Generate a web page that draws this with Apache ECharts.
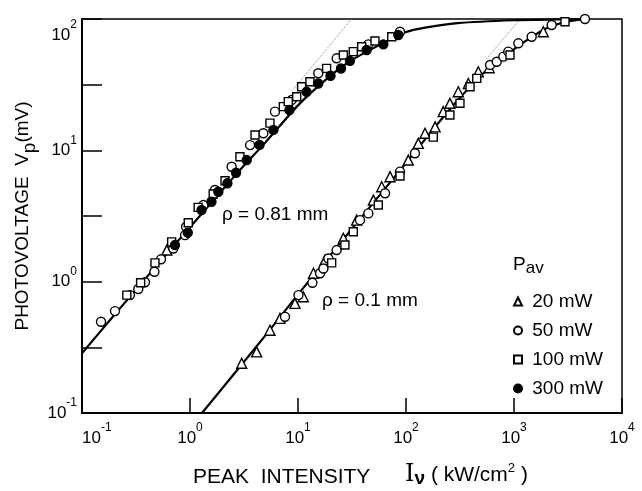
<!DOCTYPE html>
<html><head><meta charset="utf-8">
<script src="https://cdn.jsdelivr.net/npm/echarts@6/dist/echarts.min.js"></script>
<style>html,body{margin:0;padding:0;background:#fff}#c{width:642px;height:491px}</style>
</head><body><div id="c"></div>
<script>
// ---- data ----
const seriesNames = ['20 mW', '50 mW', '100 mW', '300 mW'];
// [intensity kW/cm^2, photovoltage mV]
const tri20 = [[0.61,1.74],[3.01,0.239],[4.14,0.292],[5.5,0.427],[6.81,0.525],[9.38,0.684],[11.2,0.768],[13.9,1.16],[17.8,1.46],[26.3,2.14],[34.9,2.94],[49.9,4.18],[59.6,5.28],[71.2,6.30],[105,8.43],[130,11.3],[150,13.5],[186,15.1],[221,19.7],[255,22.8],[305,27.9],[378,32.3],[467,39.7],[590,42.5],[1868,80]];
const circ50 = [[0.150,0.495],[0.202,0.597],[0.278,0.79],[0.332,0.88],[0.383,0.99],[0.468,1.19],[0.539,1.48],[0.70,1.79],[0.90,2.26],[0.92,2.62],[1.33,3.83],[1.70,4.99],[2.43,7.5],[3.6,10.96],[4.78,13.5],[6.12,19.7],[8.75,24.2],[15.4,38.6],[22.8,50.2],[44.8,64.1],[88,80],
  [7.58,0.54],[10.1,0.79],[13.6,0.98],[16.0,1.16],[17.2,1.26],[19.1,1.50],[22.8,1.74],[37.5,2.94],[44.8,3.31],[64,4.71],[88,6.88],[121,9.5],[600,44.7],[692,47.3],[797,51.7],[885,56.4],[1097,65.3],[1458,73.3],[2233,90],[4540,100]];
const sq100 = [[0.26,0.79],[0.349,0.98],[0.474,1.39],[0.676,2.01],[0.964,2.81],[1.19,3.68],[1.64,4.65],[2.11,5.86],[2.90,8.94],[4.0,13.1],[5.5,16.1],[7.31,21.5],[8.13,23.5],[9.73,25.6],[10.8,30.5],[12.9,33.3],[18.4,42.1],[26.3,53.2],[32.5,56.4],[38.9,61.5],[51.6,68.0],[73.8,73.3],
  [20.5,1.39],[27.2,1.90],[32.5,2.40],[55.4,3.83],[88,6.37],[179,12.6],[255,18.6],[316,22.8],[392,30.5],[452,35.3],[918,53.2],[2967,95.4]];
const fill300 = [[0.726,1.90],[0.953,2.36],[1.28,3.51],[1.58,4.06],[1.83,4.84],[2.22,5.61],[2.67,6.75],[3.35,8.43],[4.4,11.0],[5.92,14.3],[8.33,20.3],[12.0,27.9],[15.4,32.3],[20,37],[25,42],[30.3,48],[43.2,58.1],[61.7,64.1],[84.9,75.5]];
// fitted curves
const fitWide = [[0.1,0.285],[0.2,0.56],[0.5,1.35],[1,2.6],[2,5.0],[3,7.3],[5,11.5],[10,22],[20,37],[30,47.5],[50,60],[100,79.5],[150,86],[300,93],[1000,97.8],[3000,99.5],[5000,100]];
const fitNarrow = [[1.29,0.1],[2,0.155],[5,0.39],[10,0.8],[20,1.6],[50,4.0],[100,8.0],[200,16.2],[300,24],[500,37.5],[700,47],[1000,59],[1500,74],[2000,85],[3000,95],[4500,99.5],[5000,100]];
// dotted linear extrapolations
const linWide = [[9,29],[31.3,100]];
const linNarrow = [[560,50],[1140,100]];
// axis ranges
const xRange = [0.1, 10000];
const yRange = [0.1, 100];

const FONT = '"Liberation Sans", Arial, Helvetica, sans-serif';
function supLabel(v) {
  const e = Math.log10(v), r = Math.round(e);
  if (Math.abs(e - r) > 1e-6) return '';
  return '{b|10}{s|' + r + '}';
}
const labelRich = {
  b: {fontSize: 17, lineHeight: 32, fontFamily: FONT, color: '#000'},
  s: {fontSize: 12, lineHeight: 12, verticalAlign: 'top', fontFamily: FONT, color: '#000'}
};
const blk = '#000';
function scatter(name, data, symbol, size, fill) {
  return {name, type: 'scatter', data, symbol, symbolSize: size, z: 5,
    itemStyle: {color: fill, borderColor: blk, borderWidth: 1.4, opacity: 1}};
}
const chart = echarts.init(document.getElementById('c'), null, {renderer: 'canvas'});
chart.setOption({
  backgroundColor: '#fff',
  animation: false,
  textStyle: {fontFamily: FONT, color: blk},
  grid: {left: 82, right: 20, top: 19, bottom: 78, show: true, borderColor: blk, borderWidth: 1.5, containLabel: false},
  xAxis: {type: 'log', logBase: 10, min: xRange[0], max: xRange[1],
    axisLine: {lineStyle: {color: blk, width: 2}},
    axisTick: {inside: true, length: 15, lineStyle: {color: blk, width: 1.5}},
    splitLine: {show: false}, minorTick: {show: false},
    axisLabel: {formatter: supLabel, rich: labelRich, margin: 9, alignMinLabel: 'left', showMinLabel: true, showMaxLabel: true, hideOverlap: false}},
  yAxis: [
    {type: 'log', logBase: 10, min: yRange[0], max: yRange[1],
      axisLine: {lineStyle: {color: blk, width: 2}},
      axisTick: {inside: true, length: 20, lineStyle: {color: blk, width: 1.5}},
      splitLine: {show: false},
      axisLabel: {formatter: supLabel, rich: labelRich, margin: 5, verticalAlignMaxLabel: 'top', showMinLabel: true, showMaxLabel: true, hideOverlap: false}},
    {type: 'log', logBase: Math.sqrt(10), min: yRange[0], max: yRange[1], position: 'left',
      axisLine: {show: false},
      axisTick: {inside: true, length: 20, lineStyle: {color: blk, width: 1.5}},
      axisLabel: {show: false}, splitLine: {show: false}}
  ],
  legend: {orient: 'vertical', left: 508, top: 287, itemWidth: 8, itemHeight: 8, itemGap: 10,
    selectedMode: false, data: seriesNames, formatter: ' {name}',
    textStyle: {fontSize: 19, lineHeight: 18, color: blk, fontFamily: FONT}},
  graphic: [
    {type: 'text', x: 26, y: 216, rotation: Math.PI / 2, z: 10,
      style: {text: '{t|PHOTOVOLTAGE  V}{sub|p}{t|(mV)}', align: 'center', verticalAlign: 'middle',
        rich: {t: {fontSize: 19, lineHeight: 26, verticalAlign: 'top', fontFamily: FONT, fill: blk},
               sub: {fontSize: 19, lineHeight: 18, verticalAlign: 'bottom', fontFamily: FONT, fill: blk}}}},
    {type: 'text', x: 193, y: 477, z: 10,
      style: {text: 'PEAK  INTENSITY', fontSize: 21, fontFamily: FONT, fill: blk, align: 'left', verticalAlign: 'middle'}},
    {type: 'text', x: 405, y: 475, z: 10,
      style: {text: '{i|I}{n|ν}{t| ( kW/cm}{s|2}{t| )}', align: 'left', verticalAlign: 'middle',
        rich: {i: {fontSize: 24, lineHeight: 26, fontFamily: '"DejaVu Serif", serif', fill: blk},
               n: {fontSize: 19, lineHeight: 16, verticalAlign: 'bottom', fontWeight: 'bold', fontFamily: FONT, fill: blk},
               t: {fontSize: 21, lineHeight: 26, fontFamily: FONT, fill: blk},
               s: {fontSize: 13, lineHeight: 12, verticalAlign: 'top', fontFamily: FONT, fill: blk}}}},
    {type: 'text', x: 222, y: 215, z: 10,
      style: {text: 'ρ = 0.81 mm', fontSize: 19, fontFamily: FONT, fill: blk, align: 'left', verticalAlign: 'middle'}},
    {type: 'text', x: 322, y: 301, z: 10,
      style: {text: 'ρ = 0.1 mm', fontSize: 19, fontFamily: FONT, fill: blk, align: 'left', verticalAlign: 'middle'}},
    {type: 'text', x: 513, y: 266, z: 10,
      style: {text: '{p|P}{a|av}', align: 'left', verticalAlign: 'middle',
        rich: {p: {fontSize: 19, lineHeight: 22, verticalAlign: 'top', fontFamily: FONT, fill: blk},
               a: {fontSize: 17, lineHeight: 16, verticalAlign: 'bottom', fontFamily: FONT, fill: blk}}}}
  ],
  series: [
    {name: 'fit 0.81 mm', type: 'line', data: fitWide, showSymbol: false, smooth: 0.2, z: 2,
      lineStyle: {color: blk, width: 2.2}},
    {name: 'fit 0.1 mm', type: 'line', data: fitNarrow, showSymbol: false, smooth: 0.2, z: 2,
      lineStyle: {color: blk, width: 2.2}},
    {name: 'linear 0.81 mm', type: 'line', data: linWide, showSymbol: false, z: 1,
      lineStyle: {color: '#888', width: 1, type: 'dotted'}},
    {name: 'linear 0.1 mm', type: 'line', data: linNarrow, showSymbol: false, z: 1,
      lineStyle: {color: '#888', width: 1, type: 'dotted'}},
    scatter(seriesNames[0], tri20, 'triangle', 10, '#fff'),
    scatter(seriesNames[1], circ50, 'circle', 9, '#fff'),
    scatter(seriesNames[2], sq100, 'rect', 8, '#fff'),
    scatter(seriesNames[3], fill300, 'circle', 9, blk)
  ]
});
</script></body></html>
